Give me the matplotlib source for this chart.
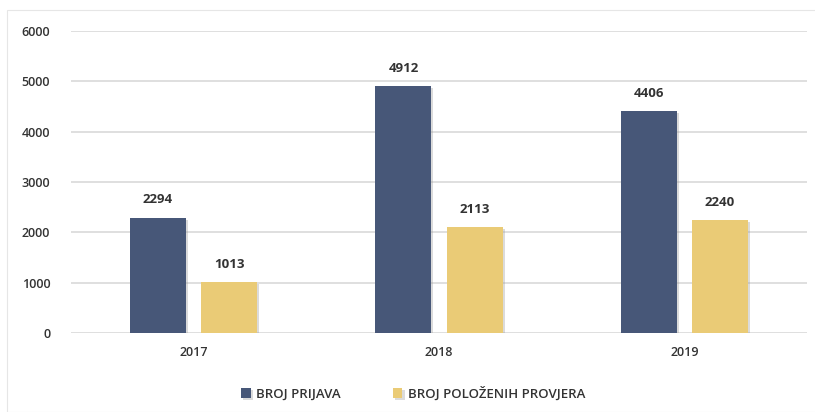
import matplotlib.pyplot as plt
import matplotlib.patheffects as pe
from matplotlib.patches import Rectangle
import numpy as np

years = ['2017', '2018', '2019']
prijave = [2294, 4912, 4406]
polozeni = [1013, 2113, 2240]
series_names = ['BROJ PRIJAVA', 'BROJ POLOŽENIH PROVJERA']

plt.rcParams['font.family'] = ['Open Sans', 'DejaVu Sans']

fig = plt.figure(figsize=(8.15, 4.12), dpi=100)
ax = fig.add_axes([71 / 815, 1 - 333 / 412, 736 / 815, 302 / 412])

# light frame around the chart area
fig.patches.append(Rectangle((7 / 815, 0), 1, 1 - 10 / 412, transform=fig.transFigure,
                             fill=False, edgecolor='#e6e6e6', linewidth=0.8))

x = np.arange(len(years))
w = 0.228
shadow = [pe.SimplePatchShadow(offset=(1.5, -1.5), shadow_rgbFace='#999999', alpha=0.35), pe.Normal()]
b1 = ax.bar(x - 0.145, prijave, w, color='#475778', label=series_names[0], zorder=3,
            path_effects=shadow)
b2 = ax.bar(x + 0.145, polozeni, w, color='#EACB76', label=series_names[1], zorder=3,
            path_effects=shadow)

for bars, vals in ((b1, prijave), (b2, polozeni)):
    for r, v in zip(bars, vals):
        ax.text(r.get_x() + r.get_width() / 2, v + 220, str(v), ha='center', va='bottom',
                fontsize=9.5, fontweight='bold', color='#333333')

ax.set_xlim(-0.5, 2.5)
ax.set_ylim(0, 6000)
ax.set_yticks(range(0, 6001, 1000))
ax.set_xticks(x)
ax.set_xticklabels(years)
ax.grid(axis='y', color='#d9d9d9', linewidth=1.2, zorder=0)
for s in ax.spines.values():
    s.set_visible(False)
ax.tick_params(axis='both', length=0, labelsize=9, colors='#333333')
for lab in ax.get_xticklabels() + ax.get_yticklabels():
    lab.set_fontweight('semibold')
ax.tick_params(axis='y', pad=15)
ax.tick_params(axis='x', pad=9)

leg = ax.legend(loc='center', bbox_to_anchor=(0.465, -0.2), ncol=2, frameon=False,
                fontsize=9.5, handlelength=0.7, handleheight=0.7, columnspacing=4.0,
                handletextpad=0.4, labelcolor='#333333')
for t in leg.get_texts():
    t.set_fontweight('semibold')

fig.savefig('out.png')
